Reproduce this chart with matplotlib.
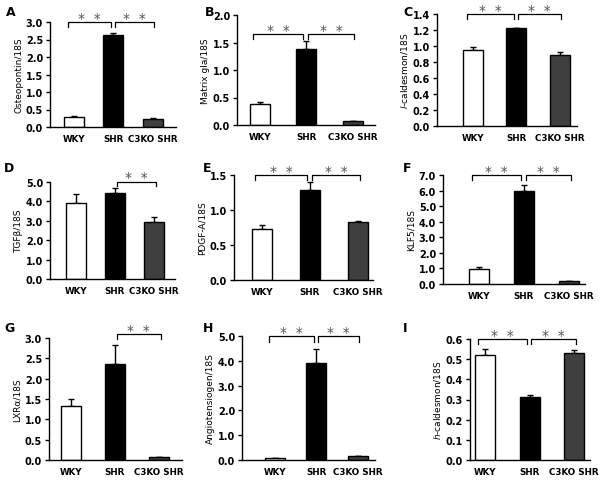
import matplotlib
matplotlib.use('Agg')
import matplotlib.pyplot as plt

groups = ['WKY', 'SHR', 'C3KO SHR']
colors = ['white', 'black', '#3f3f3f']

# panel data: values, upward errors
osteopontin = [0.30, 2.62, 0.23]
osteopontin_err = [0.02, 0.06, 0.02]
matrix_gla = [0.39, 1.39, 0.07]
matrix_gla_err = [0.02, 0.13, 0.01]
l_caldesmon = [0.95, 1.22, 0.89]
l_caldesmon_err = [0.04, 0.01, 0.04]
tgfb = [3.92, 4.45, 2.95]
tgfb_err = [0.45, 0.25, 0.25]
pdgfa = [0.73, 1.28, 0.83]
pdgfa_err = [0.06, 0.12, 0.02]
klf5 = [0.95, 6.0, 0.18]
klf5_err = [0.15, 0.35, 0.03]
lxra = [1.33, 2.37, 0.07]
lxra_err = [0.17, 0.45, 0.01]
angiotensiogen = [0.07, 3.9, 0.15]
angiotensiogen_err = [0.01, 0.57, 0.03]
h_caldesmon = [0.52, 0.31, 0.53]
h_caldesmon_err = [0.03, 0.01, 0.015]

ylabels = ['Osteopontin/18S', 'Matrix gla/18S', r'$\it{l}$-caldesmon/18S',
           'TGFβ/18S', 'PDGF-A/18S', 'KLF5/18S',
           'LXRα/18S', 'Angiotensiogen/18S', r'$\it{h}$-caldesmon/18S']
letters = list('ABCDEFGHI')
values = [osteopontin, matrix_gla, l_caldesmon, tgfb, pdgfa, klf5, lxra, angiotensiogen, h_caldesmon]
errors = [osteopontin_err, matrix_gla_err, l_caldesmon_err, tgfb_err, pdgfa_err, klf5_err,
          lxra_err, angiotensiogen_err, h_caldesmon_err]
ymaxes = [3.0, 2.0, 1.4, 5.0, 1.5, 7.0, 3.0, 5.0, 0.6]
ysteps = [0.5, 0.5, 0.2, 1.0, 0.5, 1.0, 0.5, 1.0, 0.1]
# significance brackets: (pairs, bracket height)
brackets = [([(0, 1), (1, 2)], 3.0), ([(0, 1), (1, 2)], 1.65), ([(0, 1), (1, 2)], 1.4),
            ([(1, 2)], 5.0), ([(0, 1), (1, 2)], 1.5), ([(0, 1), (1, 2)], 7.0),
            ([(1, 2)], 3.1), ([(0, 1), (1, 2)], 5.0), ([(0, 1), (1, 2)], 0.6)]

# layout in pixels: axis left, top, bottom, right, first bar centre, last bar centre
boxes = [(50, 23, 128, 176, 74, 152.5), (237, 16, 126, 375, 260, 352.5),
         (437, 15, 127, 577, 473, 559.5),
         (50, 183, 280, 175, 76, 154), (234, 176, 281, 373, 262, 358),
         (443, 176, 285, 585, 479, 569),
         (49, 339, 461, 182, 71, 159), (242, 337, 461, 375, 275, 357.5),
         (470, 340, 461, 590, 485, 574)]
letter_pos = [(6, 12), (205, 12), (403, 12), (4, 168), (203, 168), (403, 168),
              (4, 328), (203, 328), (403, 328)]

W, H = 600, 481
fig = plt.figure(figsize=(6, 4.81), dpi=100)

for i in range(9):
    l, t, b, r, c0, c2 = boxes[i]
    sp = (c2 - c0) / 2
    ax = fig.add_axes([l / W, 1 - b / H, (r - l) / W, (b - t) / H])
    x = range(3)
    ax.bar(x, values[i], width=20 / sp, color=colors, edgecolor='black', linewidth=1, zorder=2)
    ax.errorbar(x, values[i], yerr=[[0, 0, 0], errors[i]], fmt='none', ecolor='black',
                elinewidth=1, capsize=2.5, capthick=1, zorder=1)
    ax.set_xlim((l - c0) / sp, 2 + (r - c2) / sp)
    ax.set_ylim(0, ymaxes[i])
    n = int(round(ymaxes[i] / ysteps[i]))
    ticks = [k * ysteps[i] for k in range(n + 1)]
    ax.set_yticks(ticks)
    ax.set_yticklabels([f'{v:.1f}' for v in ticks], fontsize=7, fontweight='bold')
    ax.set_xticks(list(x))
    ax.set_xticklabels(groups, fontsize=6.3, fontweight='bold')
    ax.tick_params(axis='x', length=0, pad=5)
    ax.tick_params(axis='y', length=3, width=1, pad=2)
    for s in ['top', 'right']:
        ax.spines[s].set_visible(False)
    for s in ['left', 'bottom']:
        ax.spines[s].set_linewidth(1)
    ax.set_ylabel(ylabels[i], fontsize=6.5, labelpad=2)

    pairs, yb = brackets[i]
    tip = 0.045 * ymaxes[i]
    for (a, c) in pairs:
        x0 = a - 0.15 if a == 0 else a + 0.04
        x1 = c - 0.06 if c == 1 else c + 0.04
        ax.plot([x0, x0, x1, x1], [yb - tip, yb, yb, yb - tip], color='black', lw=0.9,
                clip_on=False)
        ax.text((x0 + x1) / 2, yb - 0.025 * ymaxes[i], '*  *', ha='center', va='bottom',
                fontsize=10, color='#555555', clip_on=False)

    fig.text(letter_pos[i][0] / W, 1 - letter_pos[i][1] / H, letters[i], fontsize=9,
             fontweight='bold', va='center', ha='left')

fig.savefig('out.png', dpi=100)
